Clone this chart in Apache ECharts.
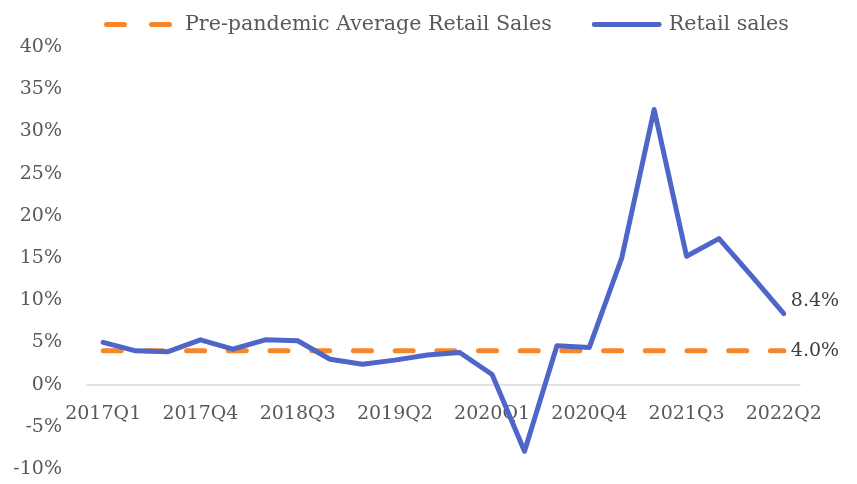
<!DOCTYPE html>
<html>
<head>
<meta charset="utf-8">
<script src="https://cdn.jsdelivr.net/npm/echarts@6/dist/echarts.min.js"></script>
<style>
  html, body { margin: 0; padding: 0; background: #fff; }
  #chart { width: 857px; height: 484px; }
</style>
</head>
<body>
<div id="chart"></div>
<script>
const quarters = [
  "2017Q1", "2017Q2", "2017Q3", "2017Q4",
  "2018Q1", "2018Q2", "2018Q3", "2018Q4",
  "2019Q1", "2019Q2", "2019Q3", "2019Q4",
  "2020Q1", "2020Q2", "2020Q3", "2020Q4",
  "2021Q1", "2021Q2", "2021Q3", "2021Q4",
  "2022Q1", "2022Q2"
];
const retailSales = [5.0, 4.0, 3.9, 5.3, 4.2, 5.3, 5.2, 3.0, 2.4, 2.9, 3.5, 3.8, 1.2, -7.9, 4.6, 4.4, 15.0, 32.6, 15.2, 17.3, 12.9, 8.4];
const preAverage = quarters.map(() => 4.0);
const yMin = -10;
const yMax = 40;

const fontFamily = "DejaVu Serif";
const textColor = "#595959";
const orange = "#F7862A";
const blue = "#4E66C8";

const gridTop = 47;
const gridBottom = 15;
const chartHeight = 484;

// x axis sits on 0% with its labels, like the excel chart
const plotHeight = chartHeight - gridTop - gridBottom;
const zeroOffset = -(plotHeight * (0 - yMin)) / (yMax - yMin);

const dashIcon =
  "path://M2.5,0h18a2.5,2.5 0 0 1 0,5h-18a2.5,2.5 0 0 1 0,-5z" +
  "M47.5,0h18a2.5,2.5 0 0 1 0,5h-18a2.5,2.5 0 0 1 0,-5z";
const lineIcon = "path://M2.5,0h67a2.5,2.5 0 0 1 0,5h-67a2.5,2.5 0 0 1 0,-5z";

const myChart = echarts.init(document.getElementById("chart"));

myChart.setOption({
  animation: false,
  textStyle: { fontFamily: fontFamily },
  legend: {
    left: 99,
    top: 9,
    itemWidth: 70,
    itemHeight: 5,
    itemGap: 40,
    textStyle: {
      fontFamily: fontFamily,
      fontSize: 20.6,
      color: textColor,
    },
    data: [
      {
        name: "Pre-pandemic Average Retail Sales",
        icon: dashIcon,
        itemStyle: { color: orange },
        textStyle: { padding: [0, 0, 0, 7] },
      },
      {
        name: "Retail sales",
        icon: lineIcon,
        itemStyle: { color: blue },
        textStyle: { padding: [0, 0, 0, 2] },
      },
    ],
  },
  grid: {
    left: 87,
    right: 57,
    top: gridTop,
    bottom: gridBottom,
    outerBoundsMode: "none",
  },
  xAxis: {
    type: "category",
    data: quarters,
    boundaryGap: true,
    offset: zeroOffset,
    axisLine: { onZero: false, lineStyle: { color: "#d9d9d9", width: 1.5 } },
    axisTick: { show: false },
    axisLabel: {
      interval: 2,
      margin: 20,
      fontFamily: fontFamily,
      fontSize: 19,
      color: textColor,
    },
  },
  yAxis: {
    type: "value",
    min: yMin,
    max: yMax,
    interval: 5,
    axisLine: { show: false },
    axisTick: { show: false },
    splitLine: { show: false },
    axisLabel: {
      formatter: "{value}%",
      margin: 25,
      fontFamily: fontFamily,
      fontSize: 19,
      color: textColor,
    },
  },
  series: [
    {
      name: "Pre-pandemic Average Retail Sales",
      type: "line",
      data: preAverage,
      symbol: "none",
      z: 2,
      lineStyle: {
        color: orange,
        width: 5,
        type: [18, 23.7],
        cap: "round",
      },
      itemStyle: { color: orange },
      endLabel: {
        show: true,
        distance: 7,
        formatter: (p) => p.value.toFixed(1) + "%",
        fontFamily: fontFamily,
        fontSize: 19,
        color: "#404040",
      },
    },
    {
      name: "Retail sales",
      type: "line",
      data: retailSales,
      symbol: "none",
      z: 3,
      lineStyle: {
        color: blue,
        width: 5,
        cap: "round",
        join: "round",
      },
      itemStyle: { color: blue },
      endLabel: {
        show: true,
        distance: 7,
        offset: [0, -13],
        formatter: (p) => p.value.toFixed(1) + "%",
        fontFamily: fontFamily,
        fontSize: 19,
        color: "#404040",
      },
    },
  ],
});
</script>
</body>
</html>
